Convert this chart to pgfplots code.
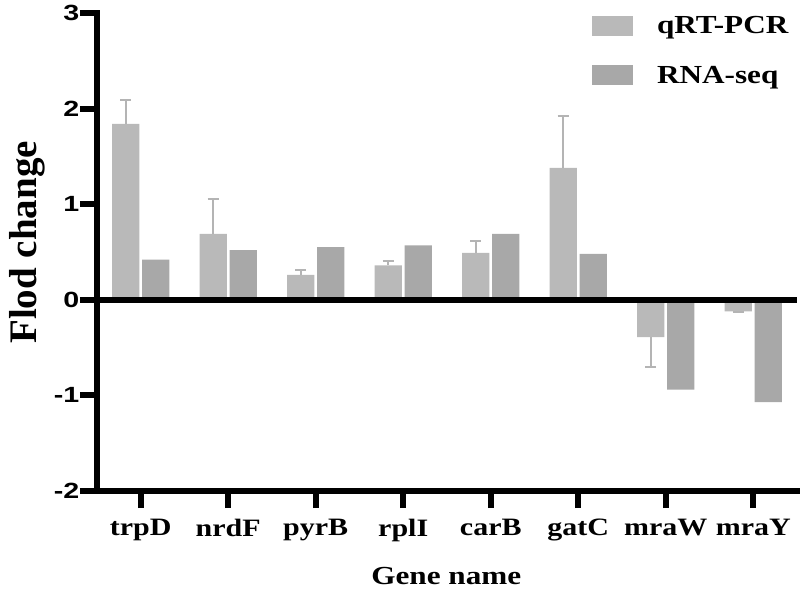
\documentclass[border=0pt]{standalone}
\usepackage{fontspec}
\setmainfont{Liberation Serif}
\newfontfamily\wserif{Liberation Serif}[FakeStretch=1.2]
\newfontfamily\wsans{Liberation Sans}[FakeStretch=1.3]
\usepackage{pgfplots}
\pgfplotsset{compat=1.18}
\usepackage{pgfplotstable}
\definecolor{qgray}{HTML}{B9B9B9}
\definecolor{rgray}{HTML}{A8A8A8}
\definecolor{egray}{HTML}{B4B4B4}
\pgfplotsset{
  mybarlegend/.style={legend image code/.code={\fill[##1] (0pt,-10pt) rectangle (41pt,10pt);}},
}

% qRT-PCR, up-regulated genes (error bar upward)
\pgfplotstableread{
x y e
0 1.84 0.25
1 0.69 0.36
2 0.26 0.05
3 0.36 0.05
4 0.49 0.12
5 1.38 0.54
}\qrtup
% qRT-PCR, down-regulated genes (error bar downward)
\pgfplotstableread{
x y e
6 -0.39 0.31
7 -0.12 0.01
}\qrtdown
\pgfplotstableread{
x y
0 0.42
1 0.52
2 0.55
3 0.57
4 0.69
5 0.48
6 -0.94
7 -1.07
}\rnaseq

\begin{document}
\begin{tikzpicture}
\begin{axis}[
  at={(0pt,0pt)}, anchor=south west,
  scale only axis, width=700pt, height=478pt,
  xmin=-0.5, xmax=7.5, ymin=-2, ymax=3,
  enlargelimits=false,
  axis x line*=bottom, axis y line*=left,
  axis line style={line width=6pt, line cap=rect, black},
  tick align=outside, major tick length=17pt,
  major tick style={line width=6pt, black},
  xtick={0,...,7},
  xticklabels={trpD,nrdF,pyrB,rplI,carB,gatC,mraW,mraY},
  ytick={-2,...,3},
  yticklabels={-2,-1,0,1,2,3},
  xticklabel style={font=\wserif\bfseries\fontsize{25}{25}\selectfont, inner sep=0pt, yshift=-11pt},
  yticklabel style={font=\wsans\bfseries\fontsize{22}{22}\selectfont, inner sep=0.5pt},
  xlabel={Gene name}, ylabel={Flod change},
  xlabel style={font=\wserif\bfseries\fontsize{26}{26}\selectfont, at={(axis description cs:0.499,-0.177)}, anchor=center},
  ylabel style={font=\bfseries\fontsize{39}{39}\selectfont, at={(axis description cs:-0.099,0.52)}, anchor=center},
  ybar, bar width=0.31,
  legend style={at={(axis description cs:0.707,0.998)}, anchor=north west, draw=none, fill=none,
    font=\wserif\bfseries\fontsize{26}{26}\selectfont, row sep=27pt, column sep=22pt, inner sep=0pt},
  legend cell align=left,
]
\addplot[fill=qgray, draw=none, bar shift=-0.172, mybarlegend,
  error bars/.cd, y dir=plus, y explicit,
  error bar style={egray, line width=2pt},
  error mark options={rotate=90, egray, mark size=5.5pt, line width=2pt}]
  table[x=x, y=y, y error=e] {\qrtup};
\addplot[fill=qgray, draw=none, bar shift=-0.172, forget plot,
  error bars/.cd, y dir=minus, y explicit,
  error bar style={egray, line width=2pt},
  error mark options={rotate=90, egray, mark size=5.5pt, line width=2pt}]
  table[x=x, y=y, y error=e] {\qrtdown};
\addplot[fill=rgray, draw=none, bar shift=0.172, mybarlegend]
  table[x=x, y=y] {\rnaseq};
\draw[line width=6pt, black] (axis cs:-0.5,0) -- (axis cs:7.5,0);
\legend{qRT-PCR, RNA-seq}
\end{axis}
\pgfresetboundingbox
\path[use as bounding box] (-97pt,-99pt) rectangle (703pt,491pt);
\end{tikzpicture}
\end{document}
